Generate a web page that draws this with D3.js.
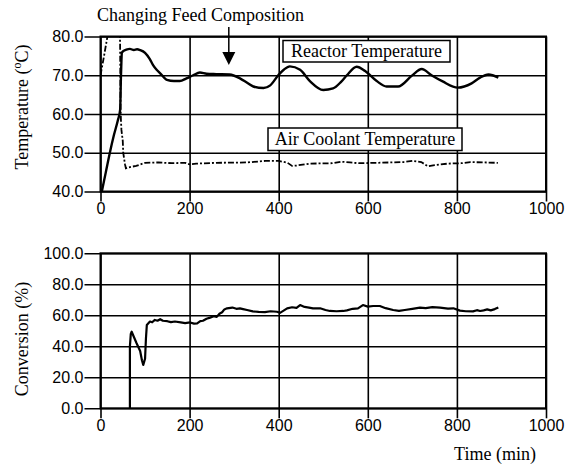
<!DOCTYPE html>
<html>
<head>
<meta charset="utf-8">
<script src="https://cdn.jsdelivr.net/npm/d3@7"></script>
<style>
  body { margin: 0; background: #fff; }
  .tick text { font-family: "Liberation Sans", sans-serif; font-size: 16px; fill: #000; }
  .serif { font-family: "Liberation Serif", serif; font-size: 18px; fill: #000; }
</style>
</head>
<body>
<div id="chart"></div>
<script>
// time ticks and value ticks
let timeTicks = [0, 200, 400, 600, 800, 1000];
let tempTicks = [40, 50, 60, 70, 80];
let convTicks = [0, 20, 40, 60, 80, 100];

// reactor temperature [min, degC]
let reactorTemp = [
  [3, 40], [12, 45], [21, 50], [30, 54.5], [39, 58.4], [44, 61], [46, 70], [48, 75.8],
  [51, 76.2], [58, 76.6], [66, 76.8], [75, 76.5], [82, 76.7], [89, 76.5], [100, 75.8],
  [110, 74.3], [118, 72.6], [126, 71.4], [134, 70.5], [149, 68.8], [165, 68.5], [178, 68.5],
  [193, 69.2], [208, 70], [223, 70.7], [238, 70.4], [260, 70.3], [290, 70.2], [313, 69.2],
  [330, 68], [343, 67.1], [366, 66.7], [381, 67.4], [399, 70], [412, 71.5], [425, 72.3],
  [448, 71.4], [470, 68.5], [500, 66.2], [522, 66.6], [540, 68.3], [553, 70], [575, 72.2],
  [594, 71.1], [620, 68.5], [642, 67.1], [668, 67.1], [699, 69.9], [721, 71.6], [743, 70],
  [768, 68.4], [802, 66.8], [833, 67.9], [852, 69.4], [871, 70.2], [893, 69.4]
];

// air coolant temperature [min, degC]
let coolantTemp = [
  [0, 70], [8, 75], [17, 81], [25, 90], [42, 90], [44, 78], [45, 62], [46, 58], [47, 55.9],
  [50, 53], [51, 50], [55, 47], [57, 46], [62, 46.2], [70, 46.4], [80, 46.6], [100, 47.4],
  [130, 47.5], [160, 47.3], [190, 47.4], [200, 47.0], [215, 47.2], [260, 47.4], [330, 47.5],
  [370, 47.9], [400, 47.9], [420, 47.4], [430, 46.6], [440, 46.7], [470, 47.2], [520, 47.3],
  [540, 47.7], [560, 47.5], [580, 47.3], [620, 47.4], [680, 47.6], [700, 47.9], [720, 47.6],
  [735, 46.5], [750, 46.8], [780, 47.2], [810, 47.3], [830, 47.6], [860, 47.5], [892, 47.4]
];

// conversion [min, %]
let conversion = [
  [66, 0], [66, 40], [68, 48], [70, 49.4], [75, 46], [81, 42], [89, 37], [93, 31], [96, 28],
  [100, 32], [102, 45], [104, 53.8], [111, 56], [116, 55.5], [122, 57], [128, 56.5], [134, 57.5],
  [140, 56.5], [150, 56.2], [158, 55.6], [167, 56], [180, 55.4], [190, 55], [201, 55.4],
  [210, 54.6], [217, 54.8], [224, 56.2], [230, 56.5], [238, 57.8], [246, 58.5], [254, 59.4],
  [261, 59], [267, 61], [273, 62], [278, 63.8], [284, 64.5], [296, 65], [305, 64.2], [313, 64.5],
  [320, 64], [329, 63.4], [342, 62.5], [355, 62.2], [369, 62], [382, 62.6], [396, 62.3],
  [403, 61.6], [411, 63], [419, 64.5], [430, 65.2], [440, 64.8], [448, 66.6], [458, 65.4],
  [468, 65], [477, 64.5], [493, 64.5], [505, 63.4], [515, 62.8], [530, 62.6], [545, 62.8],
  [553, 63.2], [566, 64.2], [578, 64.5], [589, 66.6], [600, 65.6], [612, 66], [627, 66],
  [640, 64.6], [657, 63.4], [670, 62.8], [683, 63.4], [700, 64.2], [717, 64.9], [730, 64.6],
  [745, 65.3], [762, 64.9], [780, 64.3], [792, 64.5], [807, 63], [820, 62.6], [836, 62.5],
  [845, 63.3], [852, 62.8], [860, 63.2], [868, 63.8], [876, 63.2], [885, 64], [893, 65]
];

let W = 582, H = 468;
let left = 100.5, right = 546;
let w = right - left;

let svg = d3.select("#chart")
            .append("svg")
            .attr("width", W)
            .attr("height", H);

let x = d3.scaleLinear().domain([0, 1000]).range([0, w]);

function panel(y0, h, yDomain, yTicks, id) {
    let y = d3.scaleLinear().domain(yDomain).range([h, 0]);
    let g = svg.append("g").attr("transform", "translate(" + left + "," + y0 + ")");

    g.append("clipPath").attr("id", "clip" + id)
     .append("rect").attr("width", w).attr("height", h);

    // horizontal grid + left ticks
    let ya = g.append("g")
              .attr("transform", "translate(-16,0)")
              .call(d3.axisLeft(y).tickValues(yTicks).tickSize(-(w + 16)).tickSizeOuter(0)
                      .tickPadding(1).tickFormat(d3.format(".1f")));
    ya.select(".domain").remove();
    ya.selectAll(".tick line").attr("stroke", "#000").attr("stroke-width", 1.6);

    // vertical grid + bottom ticks
    let xa = g.append("g")
              .attr("transform", "translate(0," + (h + 10) + ")")
              .call(d3.axisBottom(x).tickValues(timeTicks).tickSize(-(h + 10)).tickSizeOuter(0)
                      .tickPadding(1).tickFormat(d3.format("d")));
    xa.select(".domain").remove();
    xa.selectAll(".tick line").attr("stroke", "#000").attr("stroke-width", 1.6);

    g.append("rect").attr("width", w).attr("height", h)
     .attr("fill", "none").attr("stroke", "#000").attr("stroke-width", 2);

    return {g: g, y: y};
}

// top panel: temperatures
let tp = panel(36.5, 155, [40, 80], tempTicks, "t");

let line1 = d3.line().x(d => x(d[0])).y(d => tp.y(d[1]));
let smooth1 = d3.line().curve(d3.curveMonotoneX).x(d => x(d[0])).y(d => tp.y(d[1]));

tp.g.append("path")
    .datum(coolantTemp)
    .attr("d", line1)
    .attr("clip-path", "url(#clipt)")
    .attr("fill", "none")
    .attr("stroke", "#000")
    .attr("stroke-width", 1.8)
    .attr("stroke-dasharray", "6,2,2,2");

tp.g.append("path")
    .datum(reactorTemp)
    .attr("d", smooth1)
    .attr("clip-path", "url(#clipt)")
    .attr("fill", "none")
    .attr("stroke", "#000")
    .attr("stroke-width", 2.4)
    .attr("stroke-linejoin", "round");

// boxed labels
function boxLabel(g, bx, by, bw, bh, txt) {
    g.append("rect").attr("x", bx).attr("y", by).attr("width", bw).attr("height", bh)
     .attr("fill", "#fff").attr("stroke", "#000").attr("stroke-width", 1.5);
    g.append("text").attr("class", "serif")
     .attr("x", bx + bw / 2).attr("y", by + bh - 5.5)
     .attr("text-anchor", "middle").text(txt);
}
boxLabel(svg, 283, 40.5, 167, 21.5, "Reactor Temperature");
boxLabel(svg, 268, 128, 194, 22.5, "Air Coolant Temperature");

// annotation
svg.append("text").attr("class", "serif")
   .attr("x", 97).attr("y", 21).text("Changing Feed Composition");
let ax = left + x(288);
svg.append("line").attr("x1", ax).attr("x2", ax).attr("y1", 27).attr("y2", 54)
   .attr("stroke", "#000").attr("stroke-width", 1.5);
svg.append("path")
   .attr("d", "M" + (ax - 6.5) + ",52L" + (ax + 6.5) + ",52L" + ax + ",65Z")
   .attr("fill", "#000");

// bottom panel: conversion
let bp = panel(253.3, 155, [0, 100], convTicks, "c");
let line2 = d3.line().x(d => x(d[0])).y(d => bp.y(d[1]));

bp.g.append("path")
    .datum(conversion)
    .attr("d", line2)
    .attr("clip-path", "url(#clipc)")
    .attr("fill", "none")
    .attr("stroke", "#000")
    .attr("stroke-width", 2.2)
    .attr("stroke-linejoin", "round");

// axis titles
let t1 = svg.append("text").attr("class", "serif")
   .attr("transform", "translate(28,107) rotate(-90)")
   .attr("text-anchor", "middle");
t1.append("tspan").text("Temperature (");
t1.append("tspan").attr("baseline-shift", "super").attr("font-size", "12px").text("o");
t1.append("tspan").text("C)");

svg.append("text").attr("class", "serif")
   .attr("transform", "translate(28,339) rotate(-90)")
   .attr("text-anchor", "middle")
   .text("Conversion (%)");

svg.append("text").attr("class", "serif")
   .attr("x", 495).attr("y", 460)
   .attr("text-anchor", "middle")
   .text("Time (min)");
</script>
</body>
</html>
